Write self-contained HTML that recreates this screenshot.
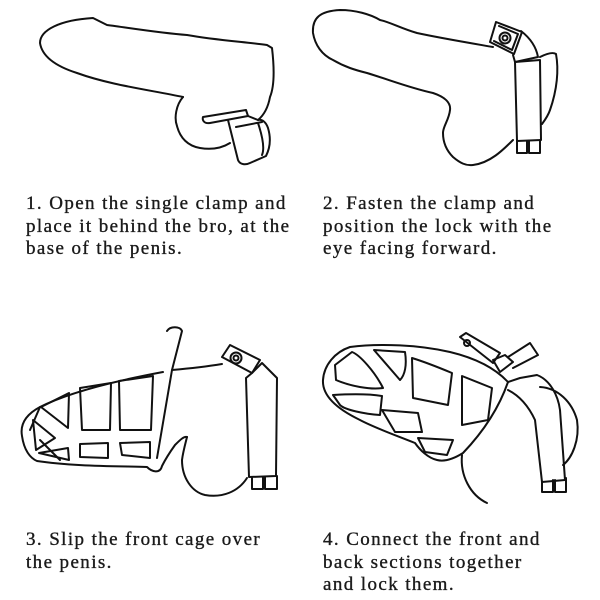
<!DOCTYPE html>
<html><head><meta charset="utf-8"><style>
html,body{margin:0;padding:0;background:#fff;}
body{width:600px;height:600px;position:relative;overflow:hidden;}
.t{position:absolute;font-family:"Liberation Serif",serif;font-size:19px;line-height:22.5px;color:#1a1a1a;letter-spacing:1.4px;white-space:nowrap;-webkit-text-stroke:0.35px #1a1a1a;}
svg{position:absolute;left:0;top:0;}
</style></head><body>
<svg width="600" height="600" viewBox="0 0 600 600" fill="none" stroke="#111" stroke-width="2" stroke-linejoin="round" stroke-linecap="round">
<!-- Panel 1 -->
<path d="M183,97 C150,90 110,85 77,73 C55,66 42,56 40,43 C40,30 60,20 93,18 L107,25 C130,28 160,33 187,35 C215,40 245,42 267,45 L272,48 C274,65 275,85 270,97 C268,108 264,115 258,120"/>
<path d="M183,97 C176,105 174,118 177,126 C180,138 188,146 200,148 C212,150 222,148 230,143"/>
<path d="M203,117 L246,110 L248,116 L210,123 C204,124 202,120 203,117 Z"/>
<path d="M228,120 L230,128 L238,160 C240,165 246,165 250,163 L266,156 C270,148 271,138 268,128 C266,122 262,119 258,120 L248,116"/>
<path d="M236,127 L262,122 M258,123 C262,135 265,148 262,155"/>
<!-- Panel 2 -->
<path d="M493,47 C470,43 440,38 417,33 C400,28 390,22 380,20 C370,14 355,10 340,10 C320,11 312,18 313,33 C315,45 322,55 333,60 C345,67 355,70 367,73 C390,80 410,88 433,93 C445,97 451,103 450,110 C449,120 443,126 443,133 C443,145 448,152 453,157 C460,163 466,166 473,165 C490,163 503,150 513,140"/>
<path d="M515,62 L540,60 L541,140 L517,141 Z"/>
<path d="M517,141 L517,153 L527,153 L527,141 M529,141 L529,153 L540,153 L540,140"/>
<path d="M496,22 L522,32 L514,54 L490,42 Z"/>
<path d="M499,26 L518,34 L512,50 L494,41"/>
<circle cx="505" cy="38" r="5.5"/><circle cx="505" cy="38" r="2.5"/>
<path d="M521,31 C530,38 536,46 538,57 L515,62 L513,55"/>
<path d="M540,57 C548,53 553,52 556,54 C559,70 557,90 550,110 C548,116 545,120 542,124"/>
<!-- Panel 3 -->
<path d="M163,372 C120,380 70,392 40,407 C25,415 20,425 22,436 C24,450 30,458 37,461 C70,466 110,466 147,467 C152,472 160,474 162,466 C165,460 170,452 175,445 C180,440 184,436 187,437"/>
<path d="M30,430 L40,407 M40,440 L60,460"/>
<path d="M167,331 C170,326 180,326 182,331 L172,370 L157,458"/>
<path d="M172,370 C195,368 210,366 222,364"/>
<path d="M41,407 L69,393 L68,428 Z M33,420 L55,438 L36,450 Z"/>
<path d="M80,388 L111,383 L110,430 L82,430 Z M119,381 L153,376 L151,430 L120,430 Z"/>
<path d="M39,453 L68,448 L69,460 Z M80,444 L108,443 L108,458 L80,457 Z M120,443 L150,442 L150,458 L122,455 Z"/>
<path d="M187,437 C185,445 183,452 182,460 C182,478 192,492 205,495 C222,498 238,492 247,478"/>
<path d="M222,357 L230,345 L260,360 L252,373 Z"/>
<circle cx="236" cy="358" r="5.5"/><circle cx="236" cy="358" r="2.5"/>
<path d="M252,373 L262,363 L277,378 L276,476 L249,477 L246,378 Z"/>
<path d="M252,477 L252,489 L263,489 L263,477 M265,477 L265,489 L277,489 L277,476"/>
<!-- Panel 4 -->
<path d="M350,347 C380,343 420,345 450,352 C475,358 495,368 508,382 C500,405 485,430 463,453 C455,458 445,462 437,460 C428,458 420,450 415,443 C395,435 375,428 360,420 C335,408 322,395 323,380 C324,365 335,352 350,347 Z"/>
<path d="M335,365 L352,352 C360,355 375,372 383,388 C370,390 350,386 336,380 Z"/>
<path d="M374,350 L405,352 C407,365 405,375 400,380 Z"/>
<path d="M412,358 C425,362 440,368 452,373 L448,405 L413,398 Z"/>
<path d="M462,376 L492,388 L488,420 L462,425 Z"/>
<path d="M333,395 C350,394 370,394 382,396 L380,415 C365,414 345,410 340,405 Z"/>
<path d="M382,410 L418,413 L422,432 L395,432 Z"/>
<path d="M418,438 L453,440 L447,455 L425,452 Z"/>
<path d="M460,337 L466,333 L500,353 L493,363 Z"/>
<circle cx="467" cy="343" r="3"/>
<path d="M493,360 L505,355 L513,362 L500,372 Z"/>
<path d="M508,357 L530,343 L538,355 L513,368"/>
<path d="M508,382 L520,378 L537,375 C550,380 558,395 560,410 L565,480 L542,482 L535,420 C528,405 518,395 508,390"/>
<path d="M542,482 L542,492 L553,492 L553,480 M555,480 L555,492 L566,492 L566,478"/>
<path d="M540,387 C558,388 572,402 577,420 C580,440 572,458 563,465"/>
<path d="M462,455 C460,475 470,495 487,503"/>
</svg>
<div class="t" style="left:26px;top:193px;">1. Open the single clamp and<br>place it behind the bro, at the<br>base of the penis.</div>
<div class="t" style="left:323px;top:193px;">2. Fasten the clamp and<br>position the lock with the<br>eye facing forward.</div>
<div class="t" style="left:26px;top:529px;">3. Slip the front cage over<br>the penis.</div>
<div class="t" style="left:323px;top:529px;">4. Connect the front and<br>back sections together<br>and lock them.</div>
</body></html>
